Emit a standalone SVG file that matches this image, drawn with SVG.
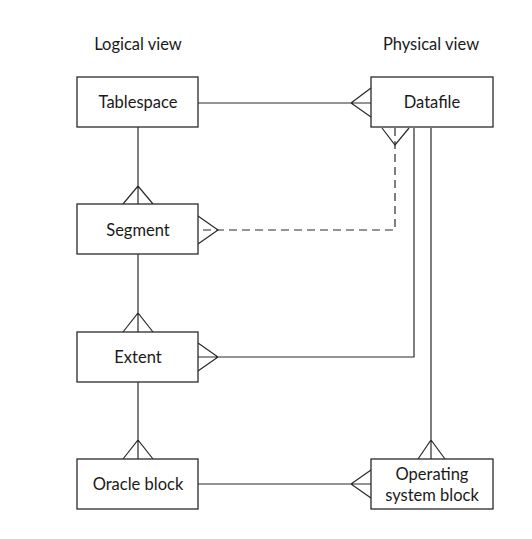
<svg xmlns="http://www.w3.org/2000/svg" width="532" height="539" viewBox="0 0 532 539">
<style>
.box{fill:#fff;stroke:#2a2a2a;stroke-width:1.3}
.ln{fill:none;stroke:#2a2a2a;stroke-width:1.2}
.dash{stroke-dasharray:8 5}
text{font-family:Lato,"Open Sans","Liberation Sans",sans-serif;font-size:16.5px;fill:#1a1a1a;text-anchor:middle}
</style>
<rect width="532" height="539" fill="#fff"/>
<text x="138" y="50">Logical view</text>
<text x="431" y="50">Physical view</text>
<g id="connectors">
<path class="ln" d="M198 103H371M371 88L351 103L371 117"/>
<path class="ln" d="M138 127V204M123 204L138 186L153 204"/>
<path class="ln" d="M138 254V332M123 332L138 313L153 332"/>
<path class="ln" d="M138 382V459M123 459L138 440L153 459"/>
<path class="ln dash" d="M395 128V230H198"/>
<path class="ln" d="M382 128L395 145L409 128M198 216L218 230L198 244"/>
<path class="ln" d="M414 128V357H198M198 343L218 357L198 371"/>
<path class="ln" d="M431 128V459M418 459L431 440L445 459"/>
<path class="ln" d="M198 484H371M371 470L351 484L371 498"/>
</g>
<g id="tablespace"><rect class="box" x="77" y="77" width="121" height="50"/><text x="138" y="108">Tablespace</text></g>
<g id="datafile"><rect class="box" x="371" y="77" width="122" height="50"/><text x="432" y="108">Datafile</text></g>
<g id="segment"><rect class="box" x="77" y="204" width="121" height="50"/><text x="138" y="236">Segment</text></g>
<g id="extent"><rect class="box" x="77" y="332" width="121" height="50"/><text x="138" y="363">Extent</text></g>
<g id="oracle-block"><rect class="box" x="77" y="459" width="121" height="50"/><text x="138" y="490">Oracle block</text></g>
<g id="os-block"><rect class="box" x="371" y="459" width="122" height="50"/><text x="432" y="480">Operating</text><text x="432" y="501">system block</text></g>
</svg>
